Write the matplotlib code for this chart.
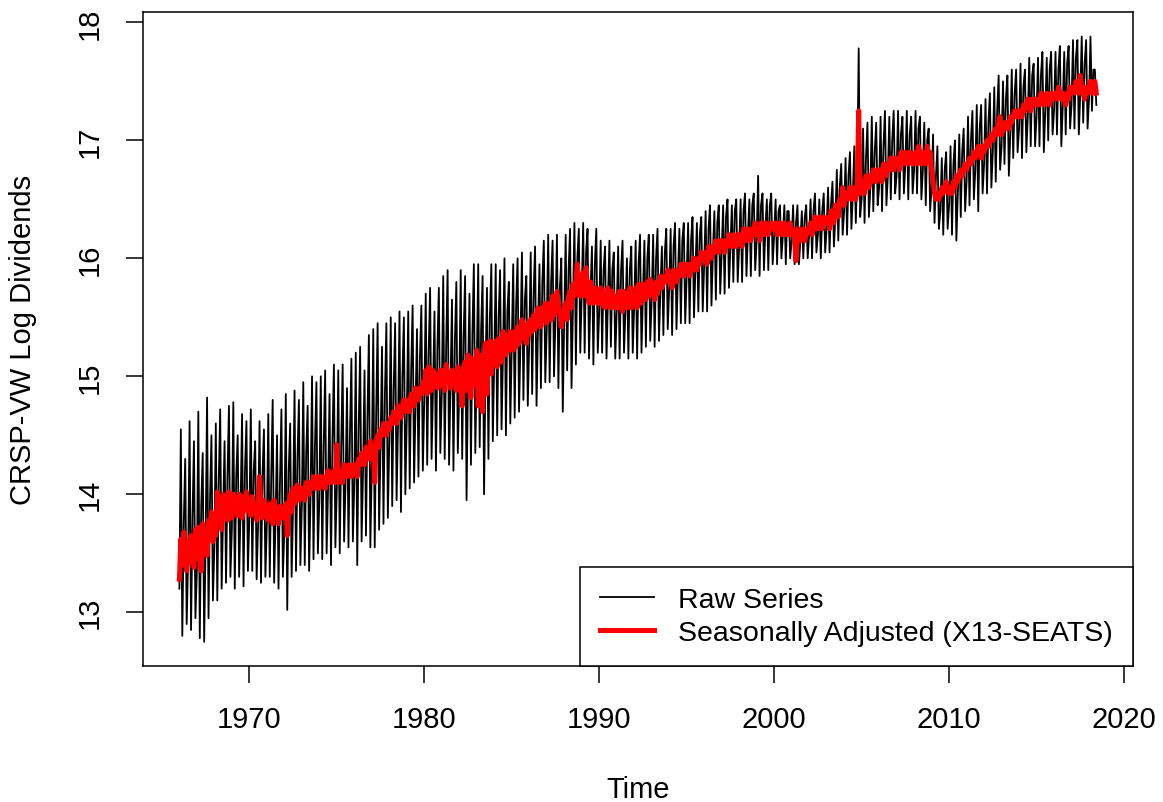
# 数值计算库
import numpy as np

# 绘图库
import matplotlib
matplotlib.use("Agg")
from matplotlib import pyplot as plt

# 全局绘图设置
config = {
    "font.family": ["Liberation Sans", "DejaVu Sans"],  # 类似 R 的 Arial
    "font.size": 21,
    "axes.labelsize": 21,
    "xtick.labelsize": 21,
    "ytick.labelsize": 21,
    "legend.fontsize": 20.5,
    "axes.linewidth": 1.1,
    "xtick.direction": "out",
    "ytick.direction": "out",
    "xtick.major.size": 12,
    "ytick.major.size": 12,
    "xtick.major.width": 1.1,
    "ytick.major.width": 1.1,
    "xtick.major.pad": 16,
    "ytick.major.pad": 16,
    "axes.grid": False,
}
plt.rcParams.update(config)

# 月度数据, 起点 1966 年 1 月
START_YEAR = 1966

# 原始序列 (CRSP-VW 对数股息)
raw_1960s = [
    13.20, 14.55, 12.80, 13.75, 14.30, 12.90, 13.45, 14.62, 12.85, 13.80, 14.45, 12.95,
    13.35, 14.70, 12.78, 13.90, 14.35, 12.75, 13.60, 14.82, 12.95, 13.95, 14.50, 13.10,
    13.55, 14.60, 13.10, 14.10, 14.72, 13.20, 13.85, 14.45, 13.25, 14.15, 14.75, 13.30,
    13.70, 14.78, 13.20, 14.15, 14.50, 13.30, 13.90, 14.68, 13.22, 14.20, 14.62, 13.35,
]
raw_1970s = [
    13.80, 14.72, 13.35, 14.20, 14.45, 13.28, 13.75, 14.62, 13.25, 14.15, 14.55, 13.30,
    13.75, 14.68, 13.30, 14.15, 14.80, 13.25, 13.80, 14.50, 13.20, 14.10, 14.72, 13.30,
    13.70, 14.85, 13.02, 14.20, 14.60, 13.30, 13.90, 14.88, 13.35, 14.30, 14.80, 13.40,
    13.90, 14.95, 13.40, 14.35, 14.75, 13.35, 14.00, 15.00, 13.45, 14.40, 14.95, 13.50,
    13.95, 15.00, 13.45, 14.40, 15.05, 13.50, 14.05, 14.85, 13.40, 14.45, 15.10, 13.55,
    14.05, 15.05, 13.50, 14.40, 15.10, 13.60, 14.10, 14.90, 13.55, 14.50, 15.15, 13.60,
    14.10, 15.20, 13.40, 14.55, 15.25, 13.60, 14.20, 15.05, 13.65, 14.65, 15.35, 13.55,
    14.25, 15.40, 13.55, 14.70, 15.45, 13.70, 14.40, 15.25, 13.75, 14.85, 15.45, 13.80,
    14.45, 15.50, 13.90, 14.90, 15.45, 13.95, 14.60, 15.55, 13.85, 15.00, 15.50, 14.00,
    14.65, 15.55, 14.05, 15.05, 15.60, 14.10, 14.75, 15.40, 14.15, 15.15, 15.60, 14.20,
]
raw_1980s = [
    14.80, 15.70, 14.25, 15.20, 15.75, 14.30, 14.90, 15.55, 14.20, 15.25, 15.75, 14.35,
    14.85, 15.85, 14.30, 15.25, 15.90, 14.25, 14.95, 15.65, 14.20, 15.30, 15.80, 14.35,
    14.90, 15.90, 14.30, 15.35, 15.85, 13.95, 15.00, 15.70, 14.25, 15.35, 15.95, 14.35,
    15.10, 15.95, 14.40, 15.40, 15.85, 14.00, 15.05, 15.75, 14.30, 15.50, 15.95, 14.45,
    15.15, 15.95, 14.50, 15.50, 15.90, 14.55, 15.20, 16.00, 14.50, 15.55, 15.80, 14.60,
    15.25, 15.95, 14.65, 15.60, 16.00, 14.70, 15.30, 16.05, 14.80, 15.65, 15.85, 14.75,
    15.30, 16.05, 14.85, 15.70, 16.10, 14.75, 15.40, 15.95, 14.90, 15.80, 16.15, 14.95,
    15.40, 16.20, 14.95, 15.80, 16.15, 15.00, 15.50, 16.20, 14.90, 15.75, 16.00, 14.70,
    15.50, 16.20, 15.05, 15.90, 16.25, 14.90, 15.60, 16.30, 15.10, 16.00, 16.25, 15.20,
    15.70, 16.30, 15.20, 16.05, 16.25, 15.15, 15.70, 16.10, 15.10, 15.95, 16.25, 15.20,
]
raw_1990s = [
    15.55, 16.15, 15.20, 15.90, 16.10, 15.15, 15.65, 16.15, 15.25, 15.90, 16.05, 15.15,
    15.55, 16.10, 15.15, 15.90, 16.15, 15.20, 15.55, 16.00, 15.15, 15.90, 16.10, 15.20,
    15.60, 16.15, 15.15, 15.95, 16.20, 15.20, 15.70, 16.15, 15.25, 16.00, 16.20, 15.30,
    15.65, 16.20, 15.25, 16.00, 16.25, 15.30, 15.75, 16.10, 15.35, 16.05, 16.25, 15.40,
    15.75, 16.25, 15.35, 16.10, 16.30, 15.40, 15.85, 16.25, 15.45, 16.15, 16.30, 15.45,
    15.85, 16.30, 15.45, 16.15, 16.35, 15.50, 15.90, 16.30, 15.55, 16.20, 16.35, 15.55,
    15.95, 16.40, 15.55, 16.25, 16.45, 15.60, 16.05, 16.40, 15.65, 16.30, 16.45, 15.70,
    16.05, 16.45, 15.70, 16.35, 16.50, 15.75, 16.10, 16.45, 15.80, 16.40, 16.50, 15.80,
    16.10, 16.50, 15.80, 16.40, 16.55, 15.85, 16.20, 16.50, 15.85, 16.45, 16.55, 15.90,
    16.15, 16.70, 15.85, 16.45, 16.55, 15.90, 16.25, 16.50, 15.90, 16.45, 16.55, 15.95,
]
raw_2000s = [
    16.20, 16.50, 15.95, 16.40, 16.45, 16.00, 16.20, 16.45, 15.95, 16.40, 16.40, 16.00,
    16.15, 16.45, 15.95, 16.30, 16.45, 15.95, 16.15, 16.40, 16.00, 16.35, 16.45, 16.00,
    16.20, 16.50, 16.00, 16.40, 16.55, 16.05, 16.20, 16.50, 16.00, 16.40, 16.55, 16.05,
    16.25, 16.60, 16.05, 16.45, 16.65, 16.10, 16.35, 16.75, 16.15, 16.60, 16.80, 16.20,
    16.40, 16.85, 16.20, 16.70, 16.90, 16.25, 16.55, 16.95, 16.30, 16.75, 17.78, 16.35,
    16.50, 17.10, 16.30, 16.85, 17.15, 16.35, 16.60, 17.20, 16.40, 16.90, 17.15, 16.45,
    16.60, 17.20, 16.40, 16.95, 17.25, 16.45, 16.70, 17.20, 16.50, 17.00, 17.25, 16.55,
    16.70, 17.25, 16.50, 17.05, 17.20, 16.55, 16.80, 17.25, 16.50, 17.05, 17.20, 16.55,
    16.75, 17.25, 16.55, 17.10, 17.20, 16.50, 16.75, 17.15, 16.45, 17.00, 17.10, 16.40,
    16.60, 17.05, 16.30, 16.70, 16.95, 16.25, 16.40, 16.85, 16.20, 16.75, 16.90, 16.25,
]
raw_2010s = [
    16.45, 16.95, 16.20, 16.80, 17.00, 16.15, 16.55, 17.05, 16.35, 16.90, 17.10, 16.40,
    16.65, 17.20, 16.45, 17.00, 17.25, 16.50, 16.75, 17.30, 16.40, 17.10, 17.30, 16.55,
    16.80, 17.35, 16.55, 17.15, 17.40, 16.60, 16.90, 17.45, 16.65, 17.25, 17.55, 16.75,
    16.95, 17.50, 16.80, 17.35, 17.55, 16.70, 17.05, 17.60, 16.85, 17.40, 17.60, 16.90,
    17.10, 17.65, 16.85, 17.45, 17.60, 16.90, 17.20, 17.70, 16.95, 17.55, 17.65, 16.95,
    17.20, 17.70, 16.95, 17.55, 17.75, 16.90, 17.25, 17.70, 17.00, 17.60, 17.75, 17.05,
    17.25, 17.75, 17.05, 17.60, 17.80, 16.95, 17.30, 17.75, 17.05, 17.65, 17.80, 17.10,
    17.30, 17.85, 17.10, 17.70, 17.85, 17.05, 17.40, 17.88, 17.15, 17.65, 17.85, 17.10,
    17.35, 17.88, 17.25, 17.60, 17.60, 17.30,
]

# 季节调整序列 (X13-SEATS)
sa_1960s = [
    13.28, 13.62, 13.40, 13.68, 13.45, 13.35, 13.60, 13.42, 13.65, 13.50, 13.38, 13.70,
    13.45, 13.72, 13.50, 13.35, 13.75, 13.55, 13.70, 13.48, 13.78, 13.62, 13.85, 13.60,
    13.82, 13.65, 14.02, 13.80, 13.95, 13.70, 14.00, 13.85, 13.95, 13.78, 14.02, 13.88,
    13.80, 14.00, 13.85, 13.95, 13.82, 14.00, 13.90, 13.80, 13.98, 13.88, 14.02, 13.85,
]
sa_1970s = [
    13.95, 13.82, 13.98, 13.85, 13.92, 13.78, 13.90, 14.15, 13.85, 13.80, 13.95, 13.82,
    13.90, 13.78, 13.92, 13.85, 13.75, 13.95, 13.82, 13.88, 13.75, 13.90, 13.85, 13.80,
    13.85, 13.92, 13.65, 13.90, 14.00, 13.85, 14.05, 13.92, 13.98, 14.08, 13.95, 14.05,
    14.00, 14.05, 13.95, 14.10, 14.05, 14.00, 14.10, 14.05, 14.15, 14.10, 14.05, 14.15,
    14.05, 14.15, 14.10, 14.15, 14.05, 14.10, 14.20, 14.15, 14.10, 14.15, 14.20, 14.10,
    14.42, 14.10, 14.20, 14.15, 14.10, 14.25, 14.20, 14.15, 14.25, 14.20, 14.15, 14.25,
    14.20, 14.25, 14.15, 14.30, 14.25, 14.35, 14.30, 14.25, 14.40, 14.35, 14.30, 14.45,
    14.35, 14.40, 14.10, 14.45, 14.50, 14.40, 14.55, 14.50, 14.60, 14.55, 14.50, 14.60,
    14.55, 14.65, 14.60, 14.70, 14.65, 14.60, 14.75, 14.70, 14.65, 14.75, 14.80, 14.70,
    14.75, 14.80, 14.70, 14.85, 14.80, 14.75, 14.90, 14.85, 14.80, 14.90, 14.85, 14.95,
]
sa_1980s = [
    14.90, 15.05, 14.85, 15.08, 14.95, 14.88, 15.05, 14.92, 15.02, 14.90, 14.98, 15.05,
    14.92, 15.05, 14.88, 15.10, 14.95, 15.02, 14.90, 15.05, 14.95, 15.02, 14.88, 15.08,
    15.00, 14.92, 14.75, 15.08, 15.12, 14.88, 15.18, 15.00, 14.82, 15.15, 15.10, 14.92,
    15.22, 14.75, 15.18, 14.80, 14.70, 15.15, 15.28, 14.85, 15.22, 15.30, 15.02, 15.28,
    15.18, 15.30, 15.08, 15.32, 15.20, 15.12, 15.38, 15.22, 15.18, 15.35, 15.22, 15.38,
    15.28, 15.22, 15.38, 15.25, 15.42, 15.28, 15.35, 15.48, 15.32, 15.42, 15.28, 15.45,
    15.35, 15.48, 15.38, 15.52, 15.40, 15.45, 15.58, 15.48, 15.42, 15.58, 15.48, 15.62,
    15.45, 15.58, 15.62, 15.48, 15.68, 15.52, 15.62, 15.72, 15.62, 15.52, 15.42, 15.52,
    15.55, 15.62, 15.48, 15.68, 15.72, 15.58, 15.78, 15.68, 15.82, 15.95, 15.72, 15.68,
    15.82, 15.88, 15.68, 15.92, 15.72, 15.62, 15.80, 15.68, 15.62, 15.75, 15.68, 15.62,
]
sa_1990s = [
    15.62, 15.75, 15.60, 15.72, 15.58, 15.68, 15.75, 15.62, 15.58, 15.72, 15.65, 15.58,
    15.68, 15.58, 15.72, 15.62, 15.55, 15.72, 15.65, 15.58, 15.68, 15.75, 15.58, 15.66,
    15.62, 15.75, 15.58, 15.78, 15.68, 15.62, 15.78, 15.68, 15.65, 15.80, 15.68, 15.82,
    15.70, 15.75, 15.65, 15.80, 15.70, 15.75, 15.85, 15.75, 15.80, 15.85, 15.80, 15.90,
    15.80, 15.85, 15.75, 15.90, 15.85, 15.80, 15.90, 15.85, 15.95, 15.90, 15.85, 15.95,
    15.90, 15.95, 15.85, 15.95, 15.90, 16.00, 15.95, 15.90, 16.00, 15.95, 16.05, 16.00,
    16.00, 16.05, 15.95, 16.10, 16.05, 16.00, 16.10, 16.05, 16.15, 16.10, 16.05, 16.15,
    16.10, 16.15, 16.05, 16.15, 16.10, 16.20, 16.15, 16.10, 16.20, 16.15, 16.10, 16.20,
    16.15, 16.20, 16.10, 16.25, 16.20, 16.15, 16.25, 16.20, 16.15, 16.25, 16.20, 16.30,
    16.20, 16.25, 16.15, 16.30, 16.25, 16.20, 16.30, 16.25, 16.20, 16.25, 16.30, 16.25,
]
sa_2000s = [
    16.25, 16.30, 16.20, 16.25, 16.30, 16.20, 16.25, 16.30, 16.20, 16.25, 16.20, 16.30,
    16.20, 16.25, 16.15, 15.98, 16.20, 16.25, 16.15, 16.20, 16.25, 16.15, 16.20, 16.25,
    16.25, 16.30, 16.20, 16.25, 16.35, 16.30, 16.25, 16.35, 16.30, 16.25, 16.35, 16.30,
    16.30, 16.35, 16.25, 16.40, 16.35, 16.30, 16.45, 16.40, 16.35, 16.50, 16.45, 16.60,
    16.45, 16.55, 16.50, 16.55, 16.60, 16.50, 16.60, 16.55, 16.50, 16.60, 17.25, 16.55,
    16.60, 16.65, 16.55, 16.70, 16.65, 16.60, 16.70, 16.65, 16.75, 16.70, 16.65, 16.75,
    16.70, 16.75, 16.65, 16.80, 16.75, 16.70, 16.80, 16.75, 16.85, 16.80, 16.75, 16.85,
    16.80, 16.85, 16.75, 16.90, 16.85, 16.80, 16.90, 16.85, 16.80, 16.90, 16.85, 16.80,
    16.85, 16.90, 16.80, 16.95, 16.85, 16.80, 16.90, 16.85, 16.80, 16.95, 16.85, 16.90,
    16.75, 16.65, 16.55, 16.50, 16.55, 16.50, 16.55, 16.60, 16.55, 16.60, 16.65, 16.60,
]
sa_2010s = [
    16.55, 16.60, 16.55, 16.65, 16.60, 16.70, 16.65, 16.70, 16.75, 16.70, 16.75, 16.80,
    16.75, 16.80, 16.85, 16.80, 16.85, 16.90, 16.85, 16.90, 16.95, 16.90, 16.85, 16.95,
    16.90, 16.95, 17.00, 16.95, 17.00, 17.05, 17.00, 17.05, 17.10, 17.05, 17.15, 17.20,
    17.05, 17.10, 17.15, 17.10, 17.15, 17.10, 17.20, 17.15, 17.20, 17.25, 17.20, 17.25,
    17.20, 17.25, 17.20, 17.30, 17.25, 17.30, 17.35, 17.30, 17.25, 17.35, 17.30, 17.35,
    17.30, 17.35, 17.30, 17.40, 17.35, 17.30, 17.35, 17.40, 17.35, 17.30, 17.40, 17.35,
    17.35, 17.40, 17.35, 17.45, 17.40, 17.35, 17.40, 17.35, 17.30, 17.40, 17.35, 17.45,
    17.40, 17.45, 17.40, 17.50, 17.45, 17.40, 17.55, 17.45, 17.40, 17.35, 17.45, 17.40,
    17.45, 17.50, 17.40, 17.45, 17.50, 17.40,
]

raw = np.array(raw_1960s + raw_1970s + raw_1980s + raw_1990s + raw_2000s + raw_2010s)
sa = np.array(sa_1960s + sa_1970s + sa_1980s + sa_1990s + sa_2000s + sa_2010s)
t = START_YEAR + np.arange(len(raw)) / 12

fig, ax = plt.subplots(figsize=(11.63, 8.03), dpi=100)
fig.subplots_adjust(left=0.1227, right=0.9742, bottom=0.1694, top=0.9834)

ax.plot(t, raw, color="black", lw=1.3, label="Raw Series")
ax.plot(t, sa, color="red", lw=3.6, label="Seasonally Adjusted (X13-SEATS)")

# R 风格的坐标范围 (两端各留 4%)
xr = t.max() - t.min()
yr = raw.max() - raw.min()
ax.set_xlim(t.min() - 0.04 * xr, t.max() + 0.04 * xr)
ax.set_ylim(raw.min() - 0.04 * yr, raw.max() + 0.04 * yr)

ax.set_xticks(np.arange(1970, 2021, 10))
ax.set_yticks(np.arange(13, 19, 1))
for lbl in ax.get_yticklabels():
    lbl.set_rotation(90)
    lbl.set_va("center")

ax.set_xlabel("Time", labelpad=30)
ax.set_ylabel("CRSP-VW Log Dividends", labelpad=28)

leg = ax.legend(loc="lower right", borderaxespad=0, fancybox=False,
                edgecolor="black", framealpha=1, borderpad=0.7,
                labelspacing=0.25, handlelength=1.9, handletextpad=0.85)
leg.get_frame().set_linewidth(1.1)

fig.savefig("out.png", dpi=100)
